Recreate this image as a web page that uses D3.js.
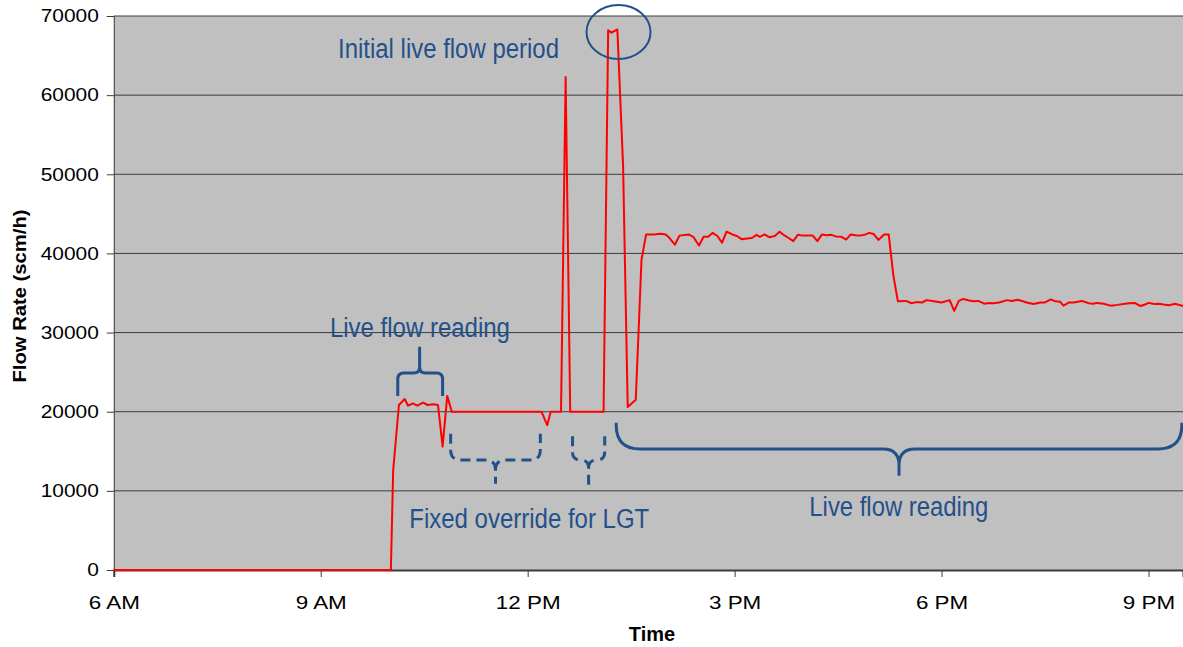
<!DOCTYPE html>
<html>
<head>
<meta charset="utf-8">
<script src="https://cdn.jsdelivr.net/npm/d3@7"></script>
<style>
  body { margin: 0; background: #fff; }
  svg { display: block; font-family: "Liberation Sans", Arial, sans-serif; }
</style>
</head>
<body>
<svg id="chart" width="1183" height="647"></svg>
<script>
// flow readings
var times = ["06:00","10:01","10:03","10:08","10:13","10:16","10:20","10:24","10:29","10:33",
  "10:38","10:42","10:46","10:50","10:54","12:12","12:17","12:20","12:29","12:33",
  "12:37","13:06","13:10","13:13","13:18","13:23","13:27","13:34","13:39","13:43",
  "13:50","13:55","14:00","14:03","14:08","14:12","14:20","14:24","14:29","14:33",
  "14:37","14:41","14:45","14:49","14:53","14:58","15:02","15:06","15:11","15:15",
  "15:19","15:22","15:26","15:30","15:35","15:39","15:43","15:47","15:51","15:55",
  "15:59","16:04","16:08","16:12","16:16","16:20","16:24","16:28","16:33","16:37",
  "16:41","16:45","16:49","16:53","16:57","17:01","17:05","17:10","17:14","17:18",
  "17:22","17:29","17:34","17:38","17:43","17:47","17:52","17:56","18:00","18:07",
  "18:11","18:15","18:19","18:24","18:28","18:32","18:37","18:41","18:45","18:50",
  "18:57","19:01","19:06","19:10","19:14","19:20","19:26","19:30","19:35","19:39",
  "19:43","19:46","19:51","19:55","20:02","20:08","20:12","20:15","20:21","20:27",
  "20:33","20:38","20:43","20:48","20:53","20:57","21:00","21:05","21:09","21:13",
  "21:18","21:23","21:30"];
var flows = [0,0,12600,20850,21600,20760,21050,20760,21150,20850,
  20950,20850,15600,22000,20000,20000,18300,20000,20000,62300,
  20000,20000,68200,67900,68300,51000,20600,21500,39200,42400,
  42400,42500,42400,42000,41100,42250,42400,42100,41000,42100,
  42100,42600,42200,41350,42750,42400,42200,41800,41900,41950,
  42350,42100,42400,42050,42200,42750,42300,41950,41550,42350,
  42250,42250,42250,41550,42400,42300,42350,42150,42100,41750,
  42400,42300,42250,42350,42600,42450,41700,42400,42400,37300,
  33950,34000,33700,33850,33800,34100,34000,33900,33800,34100,
  32750,34000,34250,34050,33950,34000,33650,33750,33700,33800,
  34100,34000,34150,34000,33800,33600,33800,33800,34200,33950,
  33900,33400,33800,33800,34000,33700,33650,33750,33650,33400,
  33500,33600,33700,33750,33350,33550,33750,33600,33650,33550,
  33450,33650,33350];

var xTicks = ["06:00","09:00","12:00","15:00","18:00","21:00"];
var yTicks = [0,10000,20000,30000,40000,50000,60000,70000];

// annotations in data units: [from, to, tip, endFlow, barFlow, tipFlow, radius px, dashed]
var braces = [
  ["10:07","10:46","10:26",22000,24900,28200,6,false],
  ["10:53","12:11","11:32",17200,13900,10900,10,true],
  ["12:39","13:07","12:53",16900,13900,10500,8,true],
  ["13:17","21:29","17:23",18600,15300,11900,24,false]
];
var notes = [
  ["Initial live flow period","09:15",64700,221],
  ["Live flow reading","09:08",29440,180],
  ["Fixed override for LGT","10:17",5310,240],
  ["Live flow reading","16:05",6820,179]
];

var parse = d3.timeParse("%H:%M");
var svg = d3.select("#chart");
var navy = "#24508a";

var x = d3.scaleTime().domain([parse("06:00"), parse("21:30")]).range([113.8, 1183]);
var y = d3.scaleLinear().domain([0, 70000]).range([570, 16]);

// plot background
svg.append("rect")
  .attr("x", x.range()[0]).attr("y", y(70000))
  .attr("width", x.range()[1] - x.range()[0]).attr("height", y(0) - y(70000))
  .attr("fill", "#c0c0c0");

// gridlines
svg.append("g").selectAll("line").data(yTicks.slice(1)).join("line")
  .attr("x1", x.range()[0]).attr("x2", x.range()[1])
  .attr("y1", function(d) { return y(d); }).attr("y2", function(d) { return y(d); })
  .attr("stroke", "#3c3c3c").attr("stroke-width", 1);

// axes
var yAxis = svg.append("g").attr("transform", "translate(" + x.range()[0] + ",0)")
  .call(d3.axisLeft(y).tickValues(yTicks).tickFormat(d3.format("d")).tickSize(7).tickPadding(8));
var xAxis = svg.append("g").attr("transform", "translate(0," + y(0) + ")")
  .call(d3.axisBottom(x).tickValues(xTicks.map(parse)).tickFormat(d3.timeFormat("%-I %p"))
    .tickSize(7).tickPadding(19));
yAxis.select(".domain").attr("stroke", "#3c3c3c");
xAxis.select(".domain").attr("stroke", "#3c3c3c").attr("stroke-width", 2);
svg.selectAll(".tick line").attr("stroke", "#3c3c3c");
svg.selectAll(".tick text").attr("fill", "#000")
  .attr("font-family", "'Liberation Sans', Arial, sans-serif");

// reference labels are drawn a bit wider than plain Arial
yAxis.selectAll(".tick text").attr("font-size", 18).each(function() {
  d3.select(this).attr("textLength", this.getComputedTextLength() * 1.16)
    .attr("lengthAdjust", "spacingAndGlyphs");
});
xAxis.selectAll(".tick text").attr("font-size", 19).each(function() {
  d3.select(this).attr("textLength", this.getComputedTextLength() * 1.18)
    .attr("lengthAdjust", "spacingAndGlyphs");
});

// axis titles
svg.append("text").attr("x", 652).attr("y", 641).attr("text-anchor", "middle")
  .attr("font-size", 20).attr("font-weight", "bold").text("Time");
svg.append("text").attr("transform", "translate(26,296) rotate(-90)")
  .attr("text-anchor", "middle").attr("font-size", 19).attr("font-weight", "bold")
  .attr("textLength", 173).attr("lengthAdjust", "spacingAndGlyphs")
  .text("Flow Rate (scm/h)");

// flow line
var pts = times.map(function(t, i) { return [parse(t), flows[i]]; });
svg.append("path").datum(pts)
  .attr("fill", "none").attr("stroke", "#ff0000").attr("stroke-width", 2)
  .attr("stroke-linejoin", "round")
  .attr("d", d3.line().x(function(d) { return x(d[0]); }).y(function(d) { return y(d[1]); }));

// braces
function bracePath(b) {
  var x0 = x(parse(b[0])), x1 = x(parse(b[1])), xt = x(parse(b[2]));
  var yE = y(b[3]), yB = y(b[4]), yT = y(b[5]), r = b[6];
  var s = yB > yE ? 1 : -1;
  var rt = Math.min(r, 16);
  var re = Math.min(r, Math.abs(yB - yE));
  var p = d3.path();
  p.moveTo(x0, yE);
  p.lineTo(x0, yB - s * re);
  p.quadraticCurveTo(x0, yB, x0 + r, yB);
  p.lineTo(xt - rt, yB);
  p.quadraticCurveTo(xt, yB, xt, yB + s * rt);
  p.lineTo(xt, yT);
  p.moveTo(xt, yB + s * rt);
  p.quadraticCurveTo(xt, yB, xt + rt, yB);
  p.lineTo(x1 - r, yB);
  p.quadraticCurveTo(x1, yB, x1, yB - s * re);
  p.lineTo(x1, yE);
  return p.toString();
}
svg.append("g").selectAll("path").data(braces).join("path")
  .attr("d", bracePath)
  .attr("fill", "none").attr("stroke", navy)
  .attr("stroke-width", 3)
  .attr("stroke-dasharray", function(d) { return d[7] ? "10,6" : null; });

// circled peak
svg.append("ellipse")
  .attr("cx", x(parse("13:19"))).attr("cy", y(67980))
  .attr("rx", 32).attr("ry", 27)
  .attr("fill", "none").attr("stroke", navy).attr("stroke-width", 2);

// annotation texts
svg.append("g").selectAll("text").data(notes).join("text")
  .attr("x", function(d) { return x(parse(d[1])); })
  .attr("y", function(d) { return y(d[2]); })
  .attr("font-size", 27).attr("fill", navy)
  .attr("textLength", function(d) { return d[3]; })
  .attr("lengthAdjust", "spacingAndGlyphs")
  .text(function(d) { return d[0]; });
</script>
</body>
</html>
